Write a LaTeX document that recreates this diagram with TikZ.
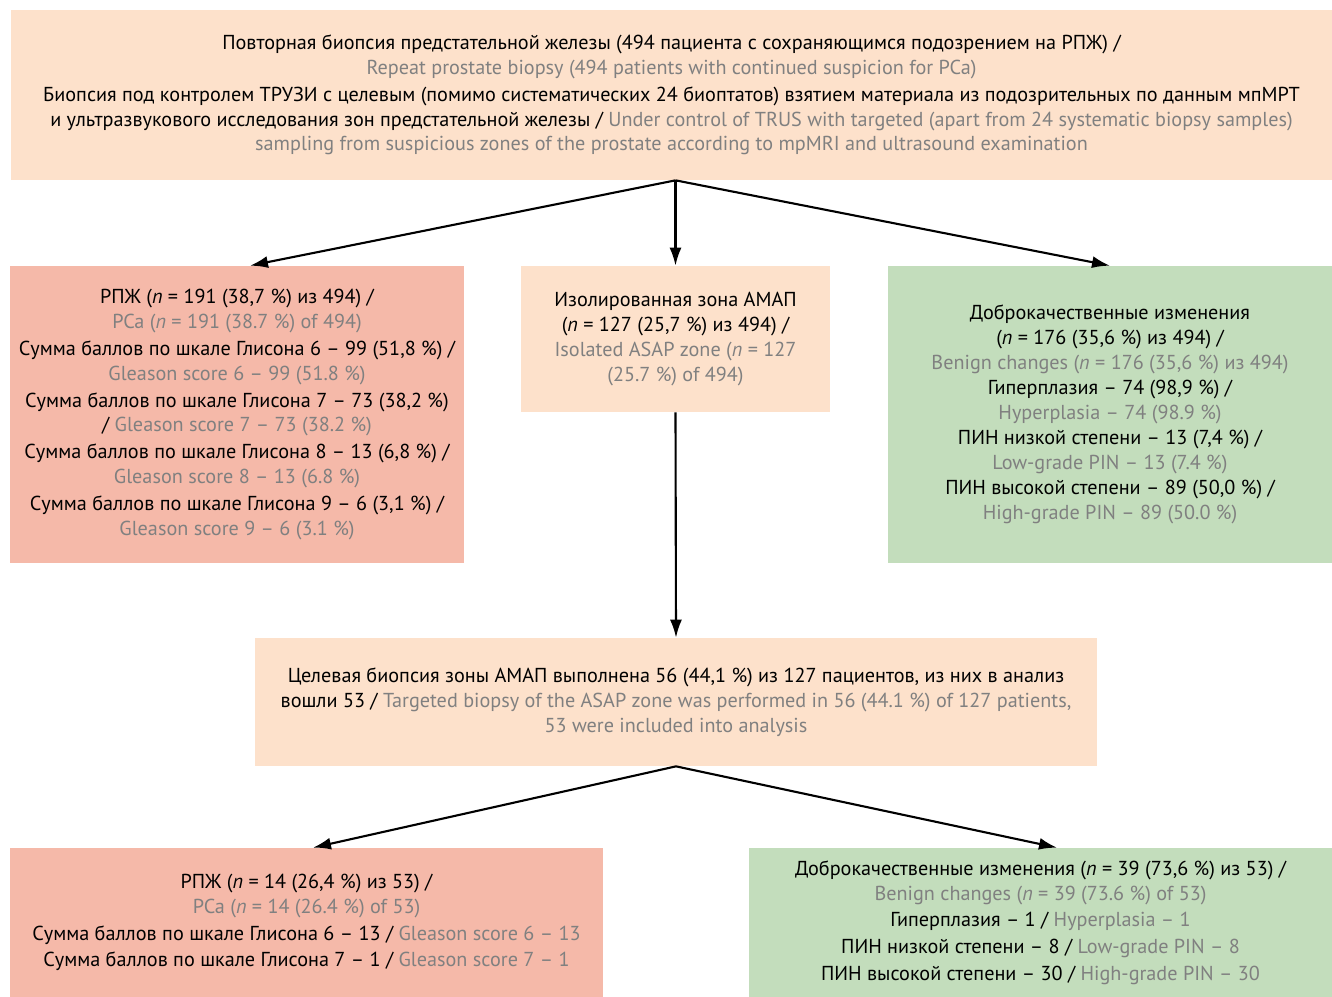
\documentclass[tikz,border=0pt]{standalone}
\usepackage{fontspec}
\setmainfont{PT Sans}
\usepackage{tikz}
\usetikzlibrary{arrows.meta}
\usetikzlibrary{positioning}
\definecolor{peach}{RGB}{253,225,203}
\definecolor{salmon}{RGB}{245,185,169}
\definecolor{sage}{RGB}{195,221,188}
\definecolor{engray}{RGB}{128,128,128}
\newcommand{\entxt}[1]{\textcolor{engray}{#1}}
\tikzset{
stage box/.style = { rectangle, draw = none, inner sep = 0pt, align = center, font = \fontsize{11.5}{14.2}\selectfont },
flow arrow/.style = { draw = black, line width = 1.2pt, -{Latex[length = 3.6mm, width = 2.4mm]} },
}

\begin{document}
\begin{tikzpicture}[x = 0.02cm, y = -0.02cm]
    \useasboundingbox (0, 0) rectangle (1332, 997);
    % first biopsy
    \node[stage box, fill = peach, minimum width = 26.42cm, minimum height = 3.4cm] (repeat) at (671.5, 95) {Повторная биопсия предстательной железы (494 пациента с сохраняющимся подозрением на РПЖ) /\\
    \entxt{Repeat prostate biopsy (494 patients with continued suspicion for PCa)}\\[1pt]
    Биопсия под контролем ТРУЗИ с целевым (помимо систематических 24 биоптатов) взятием материала из подозрительных по данным мпМРТ\\
    и ультразвукового исследования зон предстательной железы / \entxt{Under control of TRUS with targeted (apart from 24 systematic biopsy samples)}\\
    \entxt{sampling from suspicious zones of the prostate according to mpMRI and ultrasound examination}};
    % three outcomes
    \node[stage box, fill = salmon, minimum width = 9.08cm, minimum height = 5.94cm] (pca) at (237, 414.5) {РПЖ (\textit{n} = 191 (38,7 \%) из 494) /\\
    \entxt{PCa (\textit{n} = 191 (38.7 \%) of 494)}\\[1pt]
    Сумма баллов по шкале Глисона 6 – 99 (51,8 \%) /\\
    \entxt{Gleason score 6 – 99 (51.8 \%)}\\[1pt]
    Сумма баллов по шкале Глисона 7 – 73 (38,2 \%)\\
    / \entxt{Gleason score 7 – 73 (38.2 \%)}\\[1pt]
    Сумма баллов по шкале Глисона 8 – 13 (6,8 \%) /\\
    \entxt{Gleason score 8 – 13 (6.8 \%)}\\[1pt]
    Сумма баллов по шкале Глисона 9 – 6 (3,1 \%) /\\
    \entxt{Gleason score 9 – 6 (3.1 \%)}};
    \node[stage box, fill = peach, minimum width = 6.18cm, minimum height = 2.92cm] (asap) at (675.5, 339) {Изолированная зона АМАП\\
    (\textit{n} = 127 (25,7 \%) из 494) /\\
    \entxt{Isolated ASAP zone (\textit{n} = 127}\\
    \entxt{(25.7 \%) of 494)}};
    \node[stage box, fill = sage, minimum width = 8.88cm, minimum height = 5.94cm] (benign) at (1110, 414.5) {Доброкачественные изменения\\
    (\textit{n} = 176 (35,6 \%) из 494) /\\
    \entxt{Benign changes (\textit{n} = 176 (35,6 \%) из 494)}\\
    Гиперплазия – 74 (98,9 \%) /\\
    \entxt{Hyperplasia – 74 (98.9 \%)}\\
    ПИН низкой степени – 13 (7,4 \%) /\\
    \entxt{Low-grade PIN – 13 (7.4 \%)}\\
    ПИН высокой степени – 89 (50,0 \%) /\\
    \entxt{High-grade PIN – 89 (50.0 \%)}};
    % targeted biopsy of ASAP
    \node[stage box, fill = peach, minimum width = 16.84cm, minimum height = 2.56cm] (target) at (676, 702) {Целевая биопсия зоны АМАП выполнена 56 (44,1 \%) из 127 пациентов, из них в анализ\\
    вошли 53 / \entxt{Targeted biopsy of the ASAP zone was performed in 56 (44.1 \%) of 127 patients,}\\
    \entxt{53 were included into analysis}};
    \node[stage box, fill = salmon, minimum width = 11.86cm, minimum height = 2.98cm] (pca2) at (306.5, 922.5) {РПЖ (\textit{n} = 14 (26,4 \%) из 53) /\\
    \entxt{PCa (\textit{n} = 14 (26.4 \%) of 53)}\\[1pt]
    Сумма баллов по шкале Глисона 6 – 13 / \entxt{Gleason score 6 – 13}\\[1pt]
    Сумма баллов по шкале Глисона 7 – 1 / \entxt{Gleason score 7 – 1}};
    \node[stage box, fill = sage, minimum width = 11.66cm, minimum height = 2.98cm] (benign2) at (1040.5, 922.5) {Доброкачественные изменения (\textit{n} = 39 (73,6 \%) из 53) /\\
    \entxt{Benign changes (\textit{n} = 39 (73.6 \%) of 53)}\\[1pt]
    Гиперплазия – 1 / \entxt{Hyperplasia – 1}\\[1pt]
    ПИН низкой степени – 8 / \entxt{Low-grade PIN – 8}\\[1pt]
    ПИН высокой степени – 30 / \entxt{High-grade PIN – 30}};
    % arrows
    \coordinate (fork) at (repeat.south -| asap.north);
    \draw[flow arrow] (fork) -- ([xshift = 0.26cm]pca.north);
    \draw[flow arrow] (fork) -- (asap.north);
    \draw[flow arrow] (fork) -- (benign.north);
    \draw[flow arrow] (asap.south) -- (target.north);
    \draw[flow arrow] (target.south) -- ([xshift = 0.13cm]pca2.north);
    \draw[flow arrow] (target.south) -- ([xshift = 0.33cm]benign2.north);
\end{tikzpicture}
\end{document}
